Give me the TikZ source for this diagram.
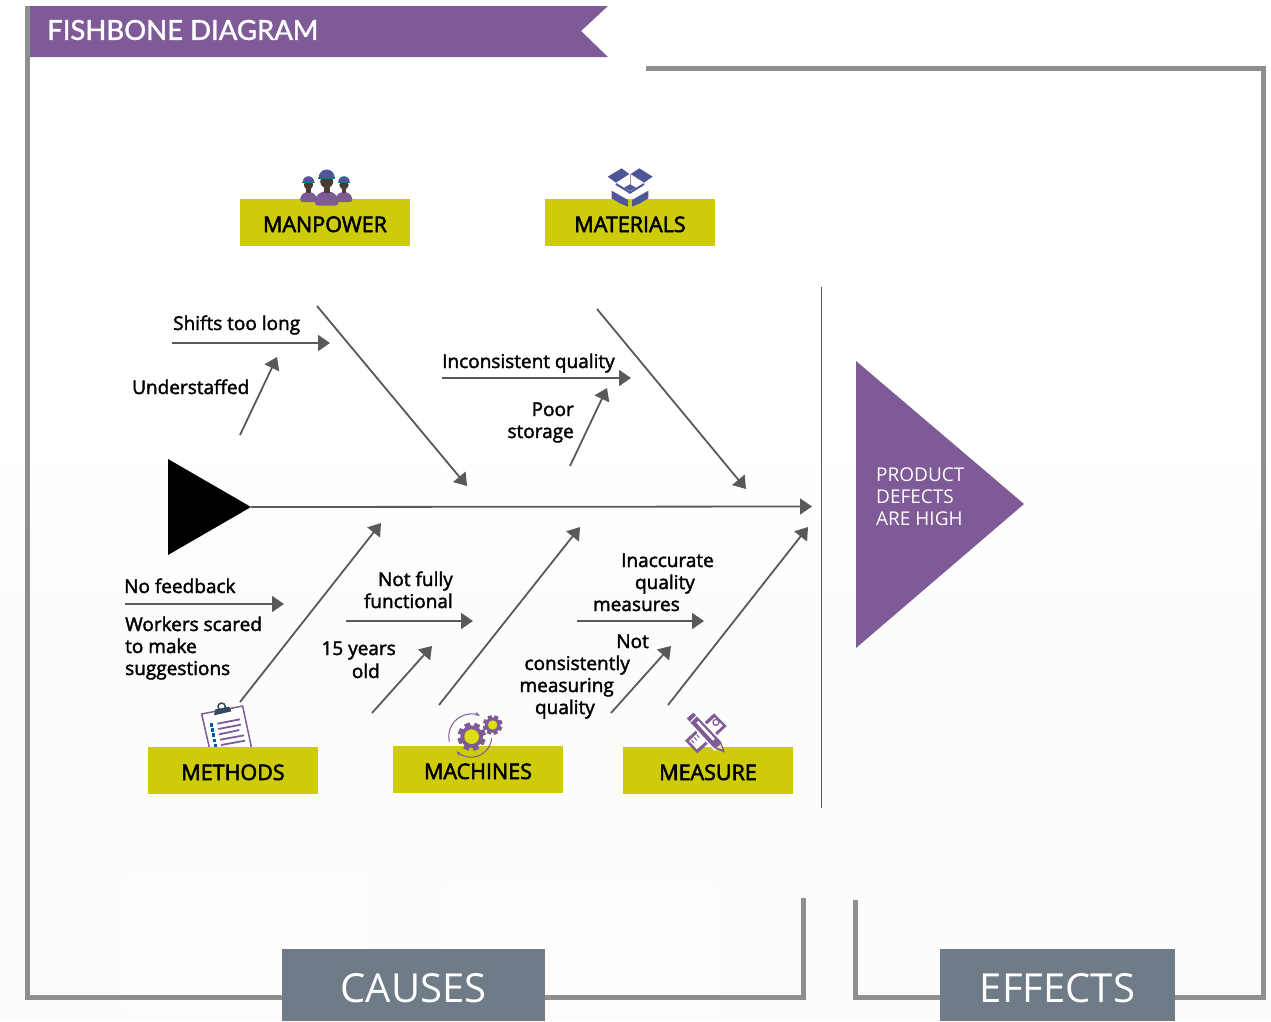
\documentclass[tikz,border=0pt]{standalone}
\usepackage{fontspec}
\setmainfont{Open Sans}
\newfontfamily\titlefont[RawFeature={embolden=1.5}]{Lato}
\newfontfamily\lblfont[RawFeature={embolden=2}]{Open Sans}
\newfontfamily\catfont[RawFeature={embolden=2.5}]{Open Sans}
\usetikzlibrary{arrows.meta,calc}
\definecolor{purp}{HTML}{7E5A96}
\definecolor{olive}{HTML}{CDCB0A}
\definecolor{slate}{HTML}{6F7B87}
\definecolor{framegray}{HTML}{8F8F8F}
\definecolor{bonegray}{HTML}{595959}
\definecolor{navy}{HTML}{4F5599}
\definecolor{darkteal}{HTML}{2F4D5E}
\definecolor{skin}{HTML}{4A3B35}
\definecolor{gearyellow}{HTML}{DDDD10}
\definecolor{bgfaint}{HTML}{FCFCFB}
\tikzset{
  bone/.style={draw=bonegray,line width=1.8pt,-{Triangle[length=12pt,width=16pt]}},
  frameline/.style={draw=framegray,line width=5pt,miter limit=10},
  catbox/.style={fill=olive,minimum width=170pt,minimum height=47pt,inner sep=0pt,text=black,font=\catfont\fontsize{21.5}{24}\selectfont},
  lbl/.style={inner sep=0pt,text=black,font=\lblfont\fontsize{19}{22}\selectfont},
  bigbox/.style={fill=slate,inner sep=0pt,text=white,font=\fontsize{40}{44}\selectfont},
}
\newcommand{\cogwheel}[4]{% x y outer hole
  \foreach \a in {0,45,...,315}{
    \fill[purp,rotate around={\a+20:(#1,#2)}] ($(#1,#2)+(-0.2*#3,-#3)$) rectangle ($(#1,#2)+(0.2*#3,#3)$);
  }
  \fill[purp] (#1,#2) circle ({0.8*#3});
  \fill[gearyellow] (#1,#2) circle (#4);
}
\begin{document}
\begin{tikzpicture}[x=1pt,y=-1pt]
\useasboundingbox (0,0) rectangle (1271,1021);
% faint background
\shade[top color=white,bottom color=bgfaint] (0,430) rectangle (1271,620);
\fill[bgfaint] (0,620) rectangle (1271,1021);
\fill[white,rounded corners=14pt,opacity=.6] (125,870) rectangle (370,1021);
\fill[white,rounded corners=14pt,opacity=.6] (440,885) rectangle (720,1021);
% frames
\path[frameline] (27.5,6) -- (27.5,997.5) -- (803.5,997.5) -- (803.5,898);
\path[frameline] (855.5,900) -- (855.5,997.5) -- (1263.5,997.5) -- (1263.5,68.5) -- (646,68.5);
% banner
\fill[purp] (30,6) -- (608,6) -- (581,31) -- (608,57) -- (30,57) -- cycle;
\node[inner sep=0pt,text=white,anchor=west,font=\titlefont\fontsize{27.5}{30}\selectfont] (title) at (47,30) {FISHBONE DIAGRAM};
% clipboard icon (behind its box)
\begin{scope}[shift={(140,690)},scale=1/3]
  \fill[white,draw=purp,line width=1.5pt] (185,72) -- (308,48) -- (338,190) -- (212,190) -- cycle;
  \draw[darkteal,line width=1.5pt] (245,50) circle (11);
  \fill[darkteal] (222,76) -- (226,58) -- (268,50) -- (274,64) -- cycle;
  \foreach \i/\l in {0/68,1/68,2/60,3/72,4/72}{
    \draw[purp,line width=1.8pt] ($(232,101)+(\i*2.8,\i*16)$) -- ++(\l,-13);
  }
  \foreach \i in {0,1,2,3,4}{
    \fill[blue!50!cyan!70!black] ($(209,99)+(\i*3,\i*15.5)$) rectangle ++(11,11);
  }
\end{scope}
% category boxes
\node[catbox] (manpower) at (325,222.5) {\raisebox{-2pt}[15pt][0pt]{MANPOWER}};
\node[catbox] (materials) at (630,222.5) {\raisebox{-2pt}[15pt][0pt]{MATERIALS}};
\node[catbox] (methods) at (233,770.5) {\raisebox{-2pt}[15pt][0pt]{METHODS}};
\node[catbox] (machines) at (478,769.5) {\raisebox{-2pt}[15pt][0pt]{MACHINES}};
\node[catbox] (measure) at (708,770.5) {\raisebox{-2pt}[15pt][0pt]{MEASURE}};
% manpower icon
\foreach \x/\y/\s in {308.5/182/0.72,344/182/0.72,326.7/177.5/1}{
  \begin{scope}[shift={(\x,\y)},scale=\s]
    \fill[purp,rounded corners=3pt] (-11,19) -- (-5,14) -- (5,14) -- (11,19) -- (12,28) -- (-12,28) -- cycle;
    \fill[skin] (0,4) circle (6.5);
    \fill[skin] (-3,8) rectangle (3,15);
    \fill[navy] (-8,0) arc[start angle=180,end angle=360,radius=8] -- cycle;
    \fill[teal!80!navy] (-8.5,-.5) rectangle (8.5,1);
  \end{scope}
}
% materials icon
\begin{scope}[shift={(540,150)},scale=1/3]
  \fill[navy] (203,80) -- (245,55) -- (268,72) -- (228,98) -- cycle;
  \fill[navy] (272,72) -- (298,55) -- (338,80) -- (312,98) -- cycle;
  \draw[purp!70!white,line width=.8pt] (270,72) -- (270,104);
  \fill[navy] (270,103) -- (288,113) -- (270,123) -- (252,113) -- cycle;
  \draw[navy,line width=2pt] (228,102) -- (270,128) -- (312,102);
  \fill[navy] (215,122) -- (264,150) -- (264,170) -- (240,160) -- (215,145) -- cycle;
  \fill[navy] (325,122) -- (276,150) -- (276,170) -- (300,160) -- (325,145) -- cycle;
\end{scope}
% machines icon
\begin{scope}[shift={(390,690)},scale=1/3]
  \draw[purp,line width=1pt,-{Stealth[length=5pt]}] (178,155) arc[start angle=167,end angle=292,radius=68];
  \draw[purp,line width=1pt,-{Stealth[length=5pt]}] (305,145) arc[start angle=5,end angle=135,radius=62];
  \cogwheel{245}{140}{42}{22}
  \cogwheel{308}{105}{29}{14}
\end{scope}
% measure icon
\begin{scope}[shift={(620,690)},scale=1/3]
  \fill[purp] (282,70) -- (320,108) -- (232,190) -- (195,152) -- cycle;
  \fill[white] (284,82) -- (308,107) -- (231,178) -- (207,153) -- cycle;
  \draw[purp,line width=1.3pt] (288,97) circle (9);
  \foreach \i in {0,1,2}{\draw[purp,line width=1pt] ($(214,150)+(\i*8,-\i*8)$) -- ++(8,9);}
  \fill[white] (195,88) -- (222,63) -- (312,157) -- (284,183) -- cycle;
  \fill[purp] (200,85) -- (220,68) -- (303,155) -- (282,174) -- cycle;
  \fill[white] (229,98) -- (235,93) -- (285,147) -- (279,152) -- cycle;
  \draw[white,line width=1pt] (212,95) -- (232,75);
  \fill[purp] (282,174) -- (303,155) -- (315,188) -- cycle;
  \fill[olive!40!white] (290,173) -- (302,163) -- (307,178) -- cycle;
\end{scope}
% head and tail
\coordinate (tailA) at (168,459);
\coordinate (tailB) at (168,555);
\coordinate (tailC) at (251,507);
\fill[black] (tailA) -- (tailC) -- (tailB) -- cycle;
\coordinate (spineEnd) at (812,506.5);
\draw[bone] (tailC) -- (spineEnd);
% main bones
\coordinate (b1s) at (317,306); \coordinate (b1e) at (467,486);
\coordinate (b2s) at (597,309); \coordinate (b2e) at (746,489);
\coordinate (b3s) at (240,702); \coordinate (b3e) at (381,523);
\coordinate (b4s) at (439,705); \coordinate (b4e) at (580,527);
\coordinate (b5s) at (668,705); \coordinate (b5e) at (808,527);
\draw[bone] (b1s) -- (b1e);
\draw[bone] (b2s) -- (b2e);
\draw[bone] (b3s) -- (b3e);
\draw[bone] (b4s) -- (b4e);
\draw[bone] (b5s) -- (b5e);
% small bones
\coordinate (s1s) at (172,343); \coordinate (s1e) at (330,343);
\coordinate (s2s) at (240,435); \coordinate (s2e) at (277,357);
\coordinate (s3s) at (442,378); \coordinate (s3e) at (631,378);
\coordinate (s4s) at (570,466); \coordinate (s4e) at (607,388);
\coordinate (s5s) at (125,604); \coordinate (s5e) at (284,604);
\coordinate (s6s) at (346,621); \coordinate (s6e) at (473,621);
\coordinate (s7s) at (577,621); \coordinate (s7e) at (704,621);
\coordinate (s8s) at (372,713); \coordinate (s8e) at (432,646);
\coordinate (s9s) at (611,713); \coordinate (s9e) at (671,646);
\foreach \n in {1,...,9}{\draw[bone] (s\n s) -- (s\n e);}
% separator
\coordinate (sepT) at (821.5,287);
\coordinate (sepB) at (821.5,808);
\draw[bonegray,line width=1.8pt] (sepT) -- (sepB);
% effect triangle
\fill[purp] (856,361) -- (1024,504) -- (856,648) -- cycle;
\node[inner sep=0pt,text=white,anchor=west,align=left,font=\fontsize{19}{22}\selectfont] (effect) at (876,497) {PRODUCT\\DEFECTS\\ARE HIGH};
% labels
\node[lbl,anchor=base west] (l1) at (173,330) {Shifts too long};
\node[lbl,anchor=base west] (l2) at (132,394) {Understaffed};
\node[lbl,anchor=base west] (l3) at (442,368) {Inconsistent quality};
\node[lbl,anchor=base east] (l4a) at (574,416) {Poor};
\node[lbl,anchor=base east] (l4b) at (574,438) {storage};
\node[lbl,anchor=base west] (l5) at (124,593) {No feedback};
\node[lbl,anchor=base west] (l6a) at (125,631) {Workers scared};
\node[lbl,anchor=base west] (l6b) at (125,653) {to make};
\node[lbl,anchor=base west] (l6c) at (125,675) {suggestions};
\node[lbl,anchor=base east] (l7a) at (453,586) {Not fully};
\node[lbl,anchor=base east] (l7b) at (453,608) {functional};
\node[lbl,anchor=base east] (l8a) at (396,655) {15 years};
\node[lbl,anchor=base east] (l8b) at (380,678) {old};
\node[lbl,anchor=base east] (l9a) at (714,567) {Inaccurate};
\node[lbl,anchor=base east] (l9b) at (695,589) {quality};
\node[lbl,anchor=base east] (l9c) at (680,611) {measures};
\node[lbl,anchor=base east] (l10a) at (649,648) {Not};
\node[lbl,anchor=base east] (l10b) at (630,670) {consistently};
\node[lbl,anchor=base east] (l10c) at (614,692) {measuring};
\node[lbl,anchor=base east] (l10d) at (595,714) {quality};
% big boxes
\node[bigbox,minimum width=263pt,minimum height=72pt] (causes) at (413.5,985) {\raisebox{-3pt}[28.5pt][0pt]{CAUSES}};
\node[bigbox,minimum width=235pt,minimum height=72pt] (effects) at (1057.5,985) {\raisebox{-3pt}[28.5pt][0pt]{EFFECTS}};
\end{tikzpicture}
\end{document}
